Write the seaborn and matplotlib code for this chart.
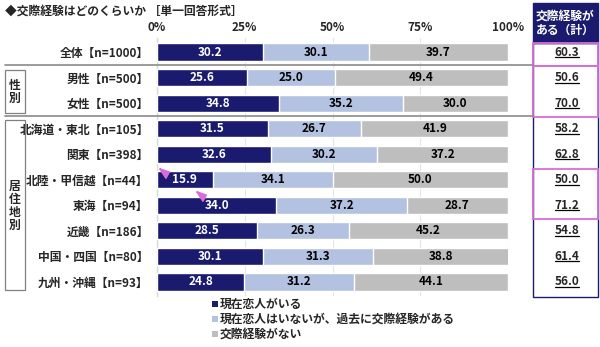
import matplotlib
matplotlib.use("Agg")
import matplotlib.pyplot as plt
import matplotlib.transforms as mtransforms
from matplotlib.patches import Rectangle
from matplotlib.lines import Line2D
import seaborn as sns
import pandas as pd

# ---------------- data ----------------
categories = ["全体【n=1000】", "男性【n=500】", "女性【n=500】", "北海道・東北【n=105】",
              "関東【n=398】", "北陸・甲信越【n=44】", "東海【n=94】", "近畿【n=186】",
              "中国・四国【n=80】", "九州・沖縄【n=93】"]
now_partner = [30.2, 25.6, 34.8, 31.5, 32.6, 15.9, 34.0, 28.5, 30.1, 24.8]
past_only = [30.1, 25.0, 35.2, 26.7, 30.2, 34.1, 37.2, 26.3, 31.3, 31.2]
never = [39.7, 49.4, 30.0, 41.9, 37.2, 50.0, 28.7, 45.2, 38.8, 44.1]
experienced_total = [60.3, 50.6, 70.0, 58.2, 62.8, 50.0, 71.2, 54.8, 61.4, 56.0]
series_names = ["現在恋人がいる", "現在恋人はいないが、過去に交際経験がある", "交際経験がない"]
xticks = [0, 25, 50, 75, 100]
xtick_labels = ["0%", "25%", "50%", "75%", "100%"]
title = "◆交際経験はどのくらいか ［単一回答形式］"
right_header = "交際経験が\nある（計）"
group_labels = ["性\n別", "居\n住\n地\n別"]

NAVY = "#1A1A6E"
LIGHT = "#B4C2E2"
GRAY = "#BEBEBE"
PINK = "#DA6CD8"

sns.set_theme(style="white")
plt.rcParams["font.family"] = ["Noto Sans CJK JP", "DejaVu Sans"]

W, H = 600, 347
fig = plt.figure(figsize=(6.0, 3.47), dpi=100)
ax_left, ax_right, ax_top, ax_bot = 157, 508, 38, 296
ax = fig.add_axes([ax_left / W, 1 - ax_bot / H, (ax_right - ax_left) / W, (ax_bot - ax_top) / H])

df = pd.DataFrame({"cat": categories, "now": now_partner, "past": past_only, "never": never})
df["c2"] = df["now"] + df["past"]
df["c3"] = df["c2"] + df["never"]

bw = 0.67
sns.barplot(data=df, x="c3", y="cat", order=categories, color=GRAY, saturation=1,
            width=bw, ax=ax, zorder=2)
sns.barplot(data=df, x="c2", y="cat", order=categories, color=LIGHT, saturation=1,
            width=bw, ax=ax, zorder=3)
sns.barplot(data=df, x="now", y="cat", order=categories, color=NAVY, saturation=1,
            width=bw, ax=ax, zorder=4)

n = len(categories)
ax.set_xlim(0, 100)
ax.set_ylim(n - 1 + 0.55, -0.55)
ax.set_xlabel("")
ax.set_ylabel("")

# value labels
for i in range(n):
    a, b, c = now_partner[i], past_only[i], never[i]
    ax.text(a / 2, i, f"{a:.1f}", ha="center", va="center", color="white",
            fontsize=8.5, fontweight="bold", zorder=6)
    ax.text(a + b / 2, i, f"{b:.1f}", ha="center", va="center", color="black",
            fontsize=8.5, fontweight="bold", zorder=6)
    ax.text(a + b + c / 2, i, f"{c:.1f}", ha="center", va="center", color="black",
            fontsize=8.5, fontweight="bold", zorder=6)

# axes styling
ax.xaxis.tick_top()
ax.set_xticks(xticks)
ax.set_xticklabels(xtick_labels, fontsize=8.5, fontweight="bold")
ax.tick_params(axis="x", length=0, pad=3)
ax.tick_params(axis="y", length=0, pad=6)
for lbl in ax.get_yticklabels():
    lbl.set_fontsize(8.5)
    lbl.set_fontweight("bold")
ax.set_yticks([i + 0.5 for i in range(n - 1)], minor=True)
ax.tick_params(axis="y", which="minor", length=3, direction="in", color="#D0D0D0", width=1)
ax.grid(axis="x", color="#E4E4E4", lw=0.8, zorder=0)
ax.set_axisbelow(True)
for s in ["top", "right", "bottom"]:
    ax.spines[s].set_visible(False)
ax.spines["left"].set_color("#D9D9D9")
ax.spines["left"].set_linewidth(1)

# marker triangles (significance marks), pointing up-left
tri = [(-1, 1), (1, 0.3), (0.3, -1), (-1, 1)]
ax.plot([2.0], [4.72], marker=tri, color=PINK, markersize=7, ls="none",
        zorder=7, clip_on=False)
ax.plot([12.5], [5.64], marker=tri, color=PINK, markersize=7, ls="none",
        zorder=7, clip_on=False)

# title
fig.text(5 / W, 1 - 11 / H, title, fontsize=8.5, fontweight="bold", ha="left", va="center")

# separator lines
bt = mtransforms.blended_transform_factory(fig.transFigure, ax.transData)
for yy in [0.5, 2.5]:
    fig.add_artist(Line2D([5 / W, 533 / W], [yy, yy], transform=bt, color="#8A8A8A", lw=1.2))

def frect(x0, y0, x1, y1, **kw):
    r = Rectangle((x0 / W, 1 - y1 / H), (x1 - x0) / W, (y1 - y0) / H,
                  transform=fig.transFigure, **kw)
    fig.add_artist(r)
    return r

# group boxes
frect(5, 70, 25, 113, fill=False, ec="#808080", lw=0.9)
frect(5, 120, 25, 290, fill=False, ec="#808080", lw=0.9)
fig.text(15 / W, 1 - 91.5 / H, group_labels[0], ha="center", va="center", fontsize=8.5,
         fontweight="bold", linespacing=1.0)
fig.text(15 / W, 1 - 206 / H, group_labels[1], ha="center", va="center", fontsize=8.5,
         fontweight="bold", linespacing=1.0)

# right column
frect(533, 3, 598, 43, fc=NAVY, ec=NAVY, lw=1)
fig.text(565.5 / W, 1 - 23 / H, right_header, ha="center", va="center", color="white",
         fontsize=8.5, fontweight="bold", linespacing=1.15)
frect(533, 43, 598, 297, fill=False, ec=NAVY, lw=1)
frect(533, 43, 598, 66, fill=False, ec=PINK, lw=1.3)
frect(533, 66, 598, 116.5, fill=False, ec=PINK, lw=1.3)
frect(533, 168.5, 598, 219, fill=False, ec=PINK, lw=1.3)

tvals = []
for i, v in enumerate(experienced_total):
    t = fig.text(567 / W, i, f"{v:.1f}", transform=bt, ha="center", va="center",
                 fontsize=8.5, fontweight="bold")
    tvals.append(t)

# legend
leg_colors = [NAVY, LIGHT, GRAY]
leg_y = [304, 319, 334]
for col, name, yy in zip(leg_colors, series_names, leg_y):
    frect(212, yy - 3, 218, yy + 3, fc=col, ec="none")
    fig.text(220 / W, 1 - yy / H, name, ha="left", va="center", fontsize=8.5, fontweight="bold")

# underline right-column values
fig.canvas.draw()
renderer = fig.canvas.get_renderer()
for t in tvals:
    bb = t.get_window_extent(renderer=renderer)
    x0, x1 = bb.x0 / (W), bb.x1 / (W)
    ybase = (bb.y0 + 1.5) / H
    fig.add_artist(Line2D([x0, x1], [ybase, ybase], transform=fig.transFigure,
                          color="black", lw=0.9))

fig.savefig("out.png", dpi=100)
